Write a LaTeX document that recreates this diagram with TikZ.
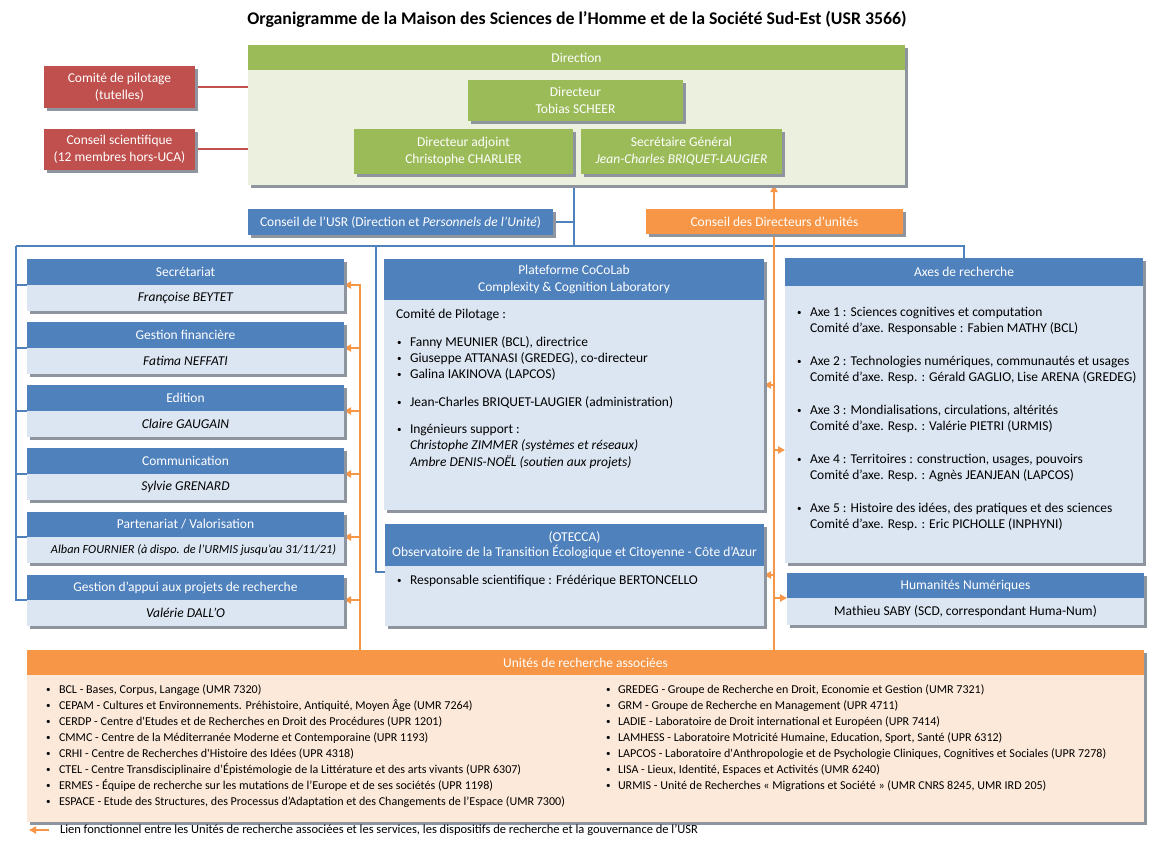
\documentclass[tikz,border=0pt]{standalone}
\usepackage{fontspec}
\setmainfont{Carlito}
\usetikzlibrary{arrows.meta,shadows,backgrounds,calc}
\definecolor{cgreen}{HTML}{9BBB59}
\definecolor{cgreenbg}{HTML}{EBF1DE}
\definecolor{cred}{HTML}{C0504D}
\definecolor{cblue}{HTML}{4F81BD}
\definecolor{cbluebg}{HTML}{DCE6F2}
\definecolor{corange}{HTML}{F79646}
\definecolor{corangebg}{HTML}{FDE9D9}
\definecolor{cshadow}{HTML}{8E959E}
\newcommand\mkbox[7]{\node[#1,minimum width={(#4)-(#2)},minimum height={(#5)-(#3)}] (#6) at (#2,#3) {#7};}
\newcommand\smallbul{{\fontsize{9}{9}\selectfont\raisebox{0.6pt}{•}}}
\begin{document}
\begin{tikzpicture}[x=1pt,y=-1pt,
  every node/.style={inner sep=0pt,outer sep=0pt,font=\fontsize{13.5}{17}\selectfont},
  bx/.style={anchor=north west,align=center,text=white},
  shd/.style={drop shadow={shadow xshift=2.5pt,shadow yshift=-3pt,fill=cshadow,opacity=1}},
  hb/.style={bx,fill=cblue,shd},
  bb/.style={bx,fill=cbluebg,text=black,shd},
  gb/.style={bx,fill=cgreen,shd},
  gbg/.style={bx,fill=cgreenbg,shd},
  rb/.style={bx,fill=cred,shd},
  ob/.style={bx,fill=corange,shd},
  obb/.style={bx,fill=corangebg,text=black,shd},
  lt/.style={anchor=base west},
  ut/.style={anchor=base west,font=\fontsize{12.05}{14}\selectfont},
  bl/.style={draw=cblue,line width=2pt},
  rl/.style={draw=cred,line width=2pt},
  orl/.style={draw=corange,line width=2.2pt},
  orar/.style={orl,-{Triangle[length=7pt,width=7pt]}},
]
\useasboundingbox (0,0) rectangle (1159,848);

\node[font=\fontsize{17.8}{21}\selectfont\bfseries] (title) at (577,19) {Organigramme de la Maison des Sciences de l’Homme et de la Société Sud-Est (USR 3566)};

% Direction
\mkbox{gb}{248}{45}{905}{70}{dirH}{Direction}
\mkbox{gbg}{248}{70}{905}{185}{dirB}{}
\mkbox{gb}{468}{80}{683}{121}{dirc}{Directeur\\Tobias SCHEER}
\mkbox{gb}{354}{129}{573}{174}{adj}{Directeur adjoint\\Christophe CHARLIER}
\mkbox{gb}{581}{129}{782}{174}{sg}{Secrétaire Général\\\itshape Jean-Charles BRIQUET-LAUGIER}

% red boxes
\mkbox{rb}{44}{66}{195}{108}{copil}{Comité de pilotage\\(tutelles)}
\mkbox{rb}{44}{129}{195}{170}{cs}{Conseil scientifique\\(12 membres hors-UCA)}

% conseils
\mkbox{hb}{248}{209}{553}{235}{usr}{Conseil de l’USR (Direction et \textit{Personnels de l’Unité})}
\mkbox{ob}{646}{209}{903}{234}{cdu}{Conseil des Directeurs d’unités}

% left column
\mkbox{hb}{27}{259}{344}{285}{secH}{Secrétariat}
\mkbox{bb}{27}{285}{344}{311}{secB}{\itshape Françoise BEYTET}
\mkbox{hb}{27}{322}{344}{348}{finH}{Gestion financière}
\mkbox{bb}{27}{348}{344}{374}{finB}{\itshape Fatima NEFFATI}
\mkbox{hb}{27}{385}{344}{411}{edH}{Edition}
\mkbox{bb}{27}{411}{344}{437}{edB}{\itshape Claire GAUGAIN}
\mkbox{hb}{27}{448}{344}{474}{comH}{Communication}
\mkbox{bb}{27}{474}{344}{500}{comB}{\itshape Sylvie GRENARD}
\mkbox{hb}{27}{512}{344}{537}{parH}{Partenariat / Valorisation}
\mkbox{bb,font=\fontsize{12.3}{15}\selectfont}{27}{537}{344}{563}{parB}{\hspace*{16pt}\itshape Alban FOURNIER (à dispo. de l’URMIS jusqu’au 31/11/21)}
\mkbox{hb}{27}{575}{344}{600}{gapH}{Gestion d’appui aux projets de recherche}
\mkbox{bb}{27}{600}{344}{626}{gapB}{\itshape Valérie DALL’O}

% CoCoLab
\mkbox{hb}{384}{259}{764}{300}{cocoH}{Plateforme CoCoLab\\Complexity \& Cognition Laboratory}
\mkbox{bb}{384}{300}{764}{510}{cocoB}{}
\node[lt] (cc0) at (396,318.5) {Comité de Pilotage :};
\foreach \yy/\tx [count=\i] in {342/{Fanny MEUNIER (BCL), directrice},358/{Giuseppe ATTANASI (GREDEG), co-directeur},374/{Galina IAKINOVA (LAPCOS)},402/{Jean-Charles BRIQUET-LAUGIER (administration)},429/{Ingénieurs support :}}{
  \node[lt] (cb\i) at (397,\yy+4.5) {\smallbul};
  \node[lt] (ct\i) at (410,\yy+4.5) {\tx};
}
\node[lt] (ct6) at (410,449.5) {\itshape Christophe ZIMMER (systèmes et réseaux)};
\node[lt] (ct7) at (410,466.5) {\itshape Ambre DENIS-NOËL (soutien aux projets)};

% OTECCA
\mkbox{hb}{385}{524}{764}{566}{otH}{(OTECCA)\\[-2pt]Observatoire de la Transition Écologique et Citoyenne - Côte d’Azur}
\mkbox{bb}{385}{566}{764}{626}{otB}{}
\node[lt] (ob1) at (397,584.5) {\smallbul};
\node[lt] (ot1) at (410,584.5) {Responsable scientifique : Frédérique BERTONCELLO};

% Axes
\mkbox{hb}{785}{258}{1143}{286}{axH}{Axes de recherche}
\mkbox{bb}{785}{286}{1143}{563}{axB}{}
\foreach \yy/\ta/\tb [count=\i] in {
  312/{Axe 1 : Sciences cognitives et computation}/{Comité d’axe. Responsable : Fabien MATHY (BCL)},
  361/{Axe 2 : Technologies numériques, communautés et usages}/{Comité d’axe. Resp. : Gérald GAGLIO, Lise ARENA (GREDEG)},
  410/{Axe 3 : Mondialisations, circulations, altérités}/{Comité d’axe. Resp. : Valérie PIETRI (URMIS)},
  459/{Axe 4 : Territoires : construction, usages, pouvoirs}/{Comité d’axe. Resp. : Agnès JEANJEAN (LAPCOS)},
  508/{Axe 5 : Histoire des idées, des pratiques et des sciences}/{Comité d’axe. Resp. : Eric PICHOLLE (INPHYNI)}}{
  \node[lt] (axb\i) at (797,\yy+4.5) {\smallbul};
  \node[lt] (axa\i) at (810,\yy+4.5) {\ta};
  \node[lt] (axc\i) at (810,\yy+20.5) {\tb};
}

% Humanites
\mkbox{hb}{787}{573}{1144}{598}{hnH}{Humanités Numériques}
\mkbox{bb}{787}{598}{1144}{625}{hnB}{Mathieu SABY (SCD, correspondant Huma-Num)}

% Unites
\mkbox{ob}{27}{650}{1144}{675}{uniH}{Unités de recherche associées}
\mkbox{obb}{27}{675}{1144}{822}{uniB}{}
\foreach \tx [count=\i from 0] in {
  {BCL - Bases, Corpus, Langage (UMR 7320)},
  {CEPAM - Cultures et Environnements. Préhistoire, Antiquité, Moyen Âge (UMR 7264)},
  {CERDP - Centre d\textquotesingle Etudes et de Recherches en Droit des Procédures (UPR 1201)},
  {CMMC - Centre de la Méditerranée Moderne et Contemporaine (UPR 1193)},
  {CRHI - Centre de Recherches d\textquotesingle Histoire des Idées (UPR 4318)},
  {CTEL - Centre Transdisciplinaire d’Épistémologie de la Littérature et des arts vivants (UPR 6307)},
  {ERMES - Équipe de recherche sur les mutations de l’Europe et de ses sociétés (UPR 1198)},
  {ESPACE - Etude des Structures, des Processus d’Adaptation et des Changements de l’Espace (UMR 7300)}}{
  \node[ut] (ulb\i) at (46,693.5+16*\i) {\smallbul};
  \node[ut] (ult\i) at (59,693.5+16*\i) {\tx};
}
\foreach \tx [count=\i from 0] in {
  {GREDEG - Groupe de Recherche en Droit, Economie et Gestion (UMR 7321)},
  {GRM - Groupe de Recherche en Management (UPR 4711)},
  {LADIE - Laboratoire de Droit international et Européen (UPR 7414)},
  {LAMHESS - Laboratoire Motricité Humaine, Education, Sport, Santé (UPR 6312)},
  {LAPCOS - Laboratoire d\textquotesingle Anthropologie et de Psychologie Cliniques, Cognitives et Sociales (UPR 7278)},
  {LISA - Lieux, Identité, Espaces et Activités (UMR 6240)},
  {URMIS - Unité de Recherches «~Migrations et Société~» (UMR CNRS 8245, UMR IRD 205)}}{
  \node[ut] (urb\i) at (606,693.5+16*\i) {\smallbul};
  \node[ut] (urt\i) at (618,693.5+16*\i) {\tx};
}

% legend
\coordinate (lg1) at (49,830);
\coordinate (lg2) at (29,830);
\node[anchor=west,font=\fontsize{12.5}{14}\selectfont] (lgt) at (60,830.5) {Lien fonctionnel entre les Unités de recherche associées et les services, les dispositifs de recherche et la gouvernance de l’USR};

\begin{pgfonlayer}{background}
\fill[white] (0,0) rectangle (1159,848);
% red links
\draw[rl] (copil.east) -- (copil.east -| dirB.west);
\draw[rl] (cs.east) -- (cs.east -| dirB.west);
% blue links
\coordinate (jn) at (574,246);
\coordinate (busL) at (16,246);
\coordinate (mx) at (376,246);
\draw[bl] (dirB.south -| jn) -- (jn);
\draw[bl] (usr.east) -- (usr.east -| jn);
\draw[bl] (busL) -- (busL -| axH.north) -- (axH.north);
\draw[bl] (busL) |- (gapH.south west);
\foreach \n in {sec,fin,ed,com,par}{\draw[bl] (busL |- \n H.south) -- (\n H.south west);}
\draw[bl] (mx) |- ($(otH.south west)+(0,6)$);
\draw[bl] ($(mx)+(0,139)$) -- ($(mx)+(0,139)$ -| cocoB.west);
% orange links
\coordinate (oL) at (360,650);
\coordinate (oR) at (774,650);
\foreach \n in {sec,fin,ed,com,par,gap}{\draw[orar] (uniH.north -| oL) |- (\n H.south east);}
\draw[orar] (uniH.north -| oR) -- (dirB.south -| oR);
\draw[orar] (uniH.north -| oR) |- ($(cocoB.north east)+(0,85)$);
\draw[orar] (uniH.north -| oR) |- ($(otB.north east)+(0,9)$);
\draw[orar] (uniH.north -| oR) |- ($(axB.north west)+(0,164)$);
\draw[orar] (uniH.north -| oR) |- (hnH.south west);
\draw[orar] (lg1) -- (lg2);
\end{pgfonlayer}
\end{tikzpicture}
\end{document}
